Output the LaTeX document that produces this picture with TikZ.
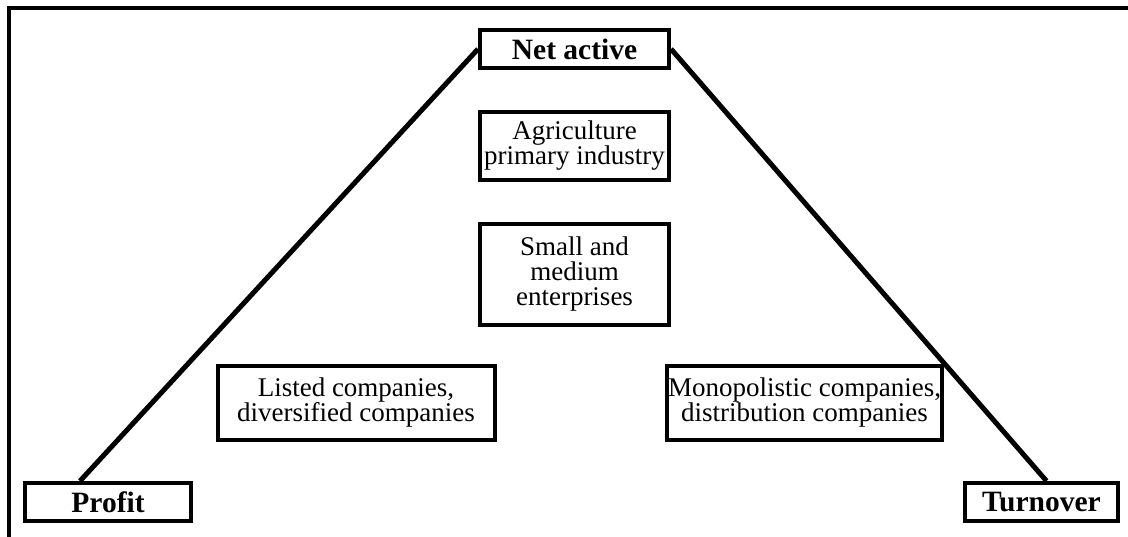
\documentclass[tikz,border=0pt]{standalone}
\usepackage{fontspec}
\setmainfont{Liberation Serif}

\tikzset{
  sector/.style={draw, line width=4pt, align=center, inner sep=1pt,
    font=\fontsize{27}{25}\selectfont},
  pole/.style={sector, minimum height=38pt, font=\fontsize{29.5}{30}\selectfont\bfseries},
  leg/.style={line width=5pt}
}

\begin{document}
\begin{tikzpicture}[x=1pt,y=-1pt]
\useasboundingbox (0,0) rectangle (1128,537);
\draw[line width=4pt] (9,537) -- (9,8) -- (1128,8);

\node[pole, minimum width=189pt] (net) at (574.5,49) {Net active};
\node[pole, minimum width=166pt] (profit) at (108,502) {Profit};
\node[pole, minimum width=153pt] (turnover) at (1041.5,502) {Turnover};

\node[sector, minimum width=189pt, minimum height=68pt] (agri) at (574.5,146)
  {Agriculture\\primary industry};
\node[sector, minimum width=189pt, minimum height=101pt] (sme) at (574.5,274.5)
  {Small and\\medium\\enterprises};
\node[sector, minimum width=277pt, minimum height=74pt] (listed) at (356,403)
  {Listed companies,\\diversified companies};
\node[sector, minimum width=273pt, minimum height=74pt] (mono) at (804.5,403)
  {Monopolistic companies,\\distribution companies};

\draw[leg] (net.west) -- ([xshift=-28pt]profit.north);
\draw[leg] (net.east) -- ([xshift=5pt]turnover.north);
\end{tikzpicture}
\end{document}
